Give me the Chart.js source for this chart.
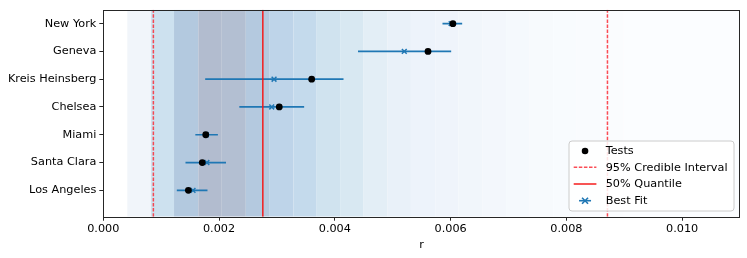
<!DOCTYPE html>
<html>
<head>
<meta charset="utf-8">
<script src="https://cdn.jsdelivr.net/npm/chart.js@4.4.1/dist/chart.umd.min.js"></script>
<style>
html,body{margin:0;padding:0;background:#fff;}
#wrap{width:747px;height:258px;position:relative;}
</style>
</head>
<body>
<div id="wrap"><canvas id="c"></canvas></div>
<script>
// ---- data (top to bottom order) ----
const cities = ["New York", "Geneva", "Kreis Heinsberg", "Chelsea", "Miami", "Santa Clara", "Los Angeles"];
const testsR = [0.00604, 0.00561, 0.00360, 0.00304, 0.00177, 0.00171, 0.00147];
const bestFitR = [0.00601, 0.00520, 0.00295, 0.00291, 0.00178, 0.00179, 0.00155];
const bestFitLow = [0.00586, 0.00440, 0.00176, 0.00235, 0.00159, 0.00142, 0.00127];
const bestFitHigh = [0.00620, 0.00601, 0.00415, 0.00347, 0.00198, 0.00212, 0.00180];
const credibleInterval = [0.000865, 0.00871];
const quantile50 = 0.002756;
const xTicks = [0.000, 0.002, 0.004, 0.006, 0.008, 0.010];
// posterior density shading: bin edges and bin colours
const bandEdges = [0.000415, 0.000825, 0.001222, 0.001642, 0.002047, 0.002462, 0.002865, 0.003285,
  0.003677, 0.004092, 0.004495, 0.00491, 0.005315, 0.005735, 0.006138, 0.00655, 0.00696, 0.00736,
  0.00778, 0.00817, 0.00859, 0.00899, 0.0110];
const bandColors = ["#f1f5fa", "#cde1ef", "#b3c9df", "#b2bccf", "#b3bfd2", "#b4c9df", "#bed4e9", "#c4daec",
  "#d0e3ef", "#d8e8f2", "#e3eef6", "#e9f1f9", "#edf3fb", "#eff4fb", "#f1f6fb", "#f3f7fc", "#f5f9fd",
  "#f7fafd", "#f8fbfe", "#f9fbfe", "#fafcfe", "#fbfdff"];
const legendLabels = ["Tests", "95% Credible Interval", "50% Quantile", "Best Fit"];

// ---- derived ----
const N = cities.length;
const yPos = i => N - 1 - i;
const Y_MIN = -0.95, Y_MAX = 6.5;
const FONT = '11.25px "DejaVu Sans"';
const BLUE = '#1f77b4';
const RED = 'rgba(245,20,20,0.9)';
const RED_DASH = 'rgba(250,45,55,0.85)';
const DASH = [3.5, 1.6];

const testsData = testsR.map((v, i) => ({x: v, y: yPos(i)}));
const bestData = bestFitR.map((v, i) => ({x: v, y: yPos(i)}));
const errData = [];
cities.forEach((c, i) => {
  errData.push({x: bestFitLow[i], y: yPos(i)});
  errData.push({x: bestFitHigh[i], y: yPos(i)});
  errData.push({x: null, y: null});
});
const vline = v => [{x: v, y: Y_MIN}, {x: v, y: Y_MAX}];

const bandsPlugin = {
  id: 'bands',
  beforeDatasetsDraw(chart) {
    const {ctx, chartArea, scales} = chart;
    const xs = scales.x;
    ctx.save();
    ctx.beginPath();
    ctx.rect(chartArea.left, chartArea.top, chartArea.right - chartArea.left, chartArea.bottom - chartArea.top);
    ctx.clip();
    for (let i = 0; i < bandColors.length; i++) {
      const x0 = xs.getPixelForValue(bandEdges[i]);
      const x1 = xs.getPixelForValue(bandEdges[i + 1]);
      ctx.fillStyle = bandColors[i];
      ctx.fillRect(x0, chartArea.top, x1 - x0, chartArea.bottom - chartArea.top);
    }
    ctx.restore();
  },
  afterDraw(chart) {
    const {ctx, chartArea: a} = chart;
    ctx.save();
    // frame
    ctx.strokeStyle = '#262626';
    ctx.lineWidth = 1;
    ctx.strokeRect(Math.round(a.left) + 0.5, Math.round(a.top) + 0.5, Math.round(a.right - a.left) - 1, Math.round(a.bottom - a.top));
    // legend
    const w = 165, h = 70;
    const bx = a.right - 6 - w, by = a.bottom - 5.7 - h;
    const r = 3;
    ctx.beginPath();
    ctx.moveTo(bx + r, by);
    ctx.lineTo(bx + w - r, by); ctx.quadraticCurveTo(bx + w, by, bx + w, by + r);
    ctx.lineTo(bx + w, by + h - r); ctx.quadraticCurveTo(bx + w, by + h, bx + w - r, by + h);
    ctx.lineTo(bx + r, by + h); ctx.quadraticCurveTo(bx, by + h, bx, by + h - r);
    ctx.lineTo(bx, by + r); ctx.quadraticCurveTo(bx, by, bx + r, by);
    ctx.closePath();
    ctx.fillStyle = 'rgba(255,255,255,0.85)';
    ctx.fill();
    ctx.strokeStyle = '#cccccc';
    ctx.lineWidth = 1;
    ctx.stroke();
    const mx0 = bx + 4.7, mx1 = bx + 27.4, mc = (mx0 + mx1) / 2;
    const rows = [by + 10, by + 26.3, by + 43, by + 59.7];
    // Tests
    ctx.fillStyle = '#000';
    ctx.beginPath(); ctx.arc(mc, rows[0], 3.3, 0, Math.PI * 2); ctx.fill();
    // 95% CI
    ctx.strokeStyle = RED_DASH; ctx.lineWidth = 1.5; ctx.setLineDash(DASH);
    ctx.beginPath(); ctx.moveTo(mx0, rows[1]); ctx.lineTo(mx1, rows[1]); ctx.stroke();
    ctx.setLineDash([]);
    // 50%
    ctx.strokeStyle = RED; ctx.lineWidth = 1.6;
    ctx.beginPath(); ctx.moveTo(mx0, rows[2]); ctx.lineTo(mx1, rows[2]); ctx.stroke();
    // Best fit
    ctx.strokeStyle = BLUE; ctx.lineWidth = 1.6;
    ctx.beginPath(); ctx.moveTo(mc - 6, rows[3]); ctx.lineTo(mc + 6, rows[3]); ctx.stroke();
    const s = 3;
    ctx.beginPath();
    ctx.moveTo(mc - s, rows[3] - s); ctx.lineTo(mc + s, rows[3] + s);
    ctx.moveTo(mc - s, rows[3] + s); ctx.lineTo(mc + s, rows[3] - s);
    ctx.stroke();
    ctx.font = FONT; ctx.fillStyle = '#000'; ctx.textBaseline = 'middle'; ctx.textAlign = 'left';
    legendLabels.forEach((t, i) => ctx.fillText(t, bx + 36.7, rows[i] + 0.5));
    ctx.restore();
  }
};

new Chart(document.getElementById('c'), {
  type: 'scatter',
  data: {
    datasets: [
      {label: 'Tests', data: testsData, order: 0, pointStyle: 'circle', pointRadius: 3.4,
        backgroundColor: '#000', borderColor: '#000', borderWidth: 0, showLine: false},
      {label: 'Best Fit', data: bestData, order: 1, pointStyle: 'crossRot', pointRadius: 3.4,
        borderColor: BLUE, backgroundColor: BLUE, borderWidth: 1.5, showLine: false},
      {type: 'line', label: 'CI low', data: vline(credibleInterval[0]), order: 2, borderColor: RED_DASH,
        borderWidth: 1.5, borderDash: DASH, pointRadius: 0, fill: false},
      {type: 'line', label: 'CI high', data: vline(credibleInterval[1]), order: 2, borderColor: RED_DASH,
        borderWidth: 1.5, borderDash: DASH, pointRadius: 0, fill: false},
      {type: 'line', label: '50%', data: vline(quantile50), order: 2, borderColor: RED,
        borderWidth: 1.6, pointRadius: 0, fill: false},
      {type: 'line', label: 'err', data: errData, order: 3, borderColor: BLUE, borderWidth: 1.7,
        pointRadius: 0, spanGaps: false, fill: false}
    ]
  },
  options: {
    responsive: true,
    maintainAspectRatio: false,
    devicePixelRatio: 1,
    animation: false,
    events: [],
    layout: {padding: {left: 0, right: 7, top: 7, bottom: 0}},
    plugins: {legend: {display: false}, tooltip: {enabled: false}},
    scales: {
      x: {
        type: 'linear', min: 0, max: 0.011,
        afterBuildTicks: s => { s.ticks = xTicks.map(v => ({value: v})); },
        afterFit: s => { s.height = 41.3; },
        ticks: {callback: v => Number(v).toFixed(3), font: {family: 'DejaVu Sans', size: 11.25}, color: '#000', padding: 1.5, maxRotation: 0},
        grid: {display: true, drawOnChartArea: false, drawTicks: true, tickLength: 4, color: '#262626'},
        border: {display: false},
        title: {display: true, text: 'r', font: {family: 'DejaVu Sans', size: 11.25}, color: '#000', padding: {top: 0, bottom: 6}}
      },
      y: {
        type: 'linear', min: Y_MIN, max: Y_MAX,
        afterBuildTicks: s => { s.ticks = cities.map((c, i) => ({value: yPos(i)})); },
        afterFit: s => { s.width = 103.3; },
        ticks: {callback: v => cities[N - 1 - Math.round(v)], font: {family: 'DejaVu Sans', size: 11.25}, color: '#000', padding: 3},
        grid: {display: true, drawOnChartArea: false, drawTicks: true, tickLength: 4, color: '#262626'},
        border: {display: false}
      }
    }
  },
  plugins: [bandsPlugin]
});
</script>
</body>
</html>
